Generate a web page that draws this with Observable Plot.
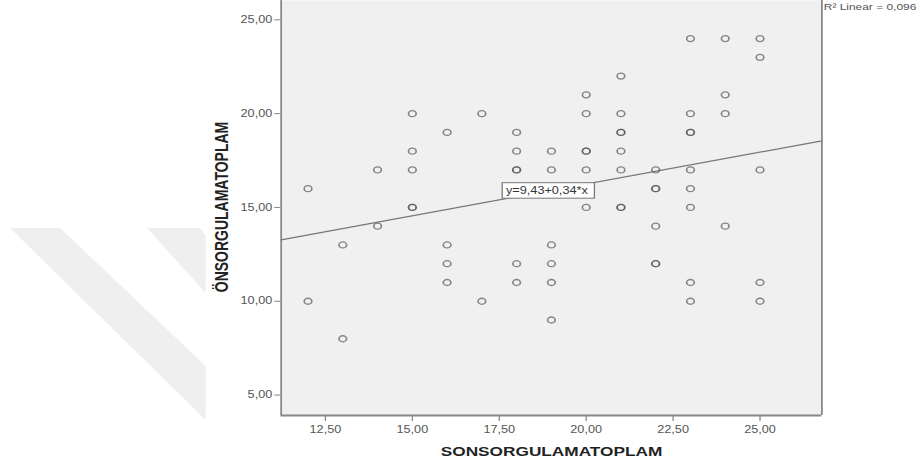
<!DOCTYPE html>
<html><head><meta charset="utf-8">
<script src="https://cdn.jsdelivr.net/npm/d3@7"></script>
<script src="https://cdn.jsdelivr.net/npm/@observablehq/plot@0.6"></script>
<style>
html,body{margin:0;padding:0;background:#fff;}
#wrap{position:relative;width:919px;height:465px;overflow:hidden;}
#wm{position:absolute;left:0;top:0;}
#chart{position:absolute;left:0;top:0;}
</style></head><body>
<div id="wrap">
<svg id="wm" width="919" height="465" aria-hidden="true">
  <polygon points="10,228 60,228 205.7,366 205.7,420" fill="#efefef"/>
  <polygon points="147,228 200,228 205.7,236 205.7,293" fill="#efefef"/>
</svg>
<div id="chart"></div>
</div>
<script>
// SONSORGULAMATOPLAM (x) and ÖNSORGULAMATOPLAM (y), one entry per case
const sonsorgulama = [
  12,12, 13,13, 14,14, 15,15,15,15,15, 16,16,16,16, 17,17,
  18,18,18,18,18,18, 19,19,19,19,19,19, 20,20,20,20,20,20,
  21,21,21,21,21,21,21,21, 22,22,22,22,22,22,
  23,23,23,23,23,23,23,23,23, 24,24,24,24, 25,25,25,25,25
];
const onsorgulama = [
  16,10, 13,8, 17,14, 20,18,17,15,15, 19,13,12,11, 20,10,
  19,18,17,17,12,11, 18,17,13,12,11,9, 21,20,18,18,17,15,
  22,20,19,19,18,17,15,15, 17,16,16,14,12,12,
  24,20,19,19,17,16,15,11,10, 24,21,20,14, 24,23,17,11,10
];
const xTicks = [12.5, 15, 17.5, 20, 22.5, 25];
const yTicks = [5, 10, 15, 20, 25];
const xDomain = [11.227, 26.78];
const yDomain = [3.91, 26.03];
// fit line end points
const fitX = [11.227, 26.78];
const fitY = [13.27, 18.55];
const eqLabel = "y=9,43+0,34*x";
const eqPos = [18.87, 15.89];
const r2Label = "R² Linear = 0,096";
const xTitle = "SONSORGULAMATOPLAM";
const yTitle = "ÖNSORGULAMATOPLAM";

const points = sonsorgulama.map((x, i) => ({x, y: onsorgulama[i]}));
const fitData = fitX.map((x, i) => ({x, y: fitY[i]}));
const fmt = d => d.toFixed(2).replace(".", ",");

const DW = 724; // design width, stretched to 919
const plot = Plot.plot({
  width: DW, height: 465,
  marginLeft: 221, marginRight: 77, marginTop: 0, marginBottom: 50,
  style: {background: "transparent", fontFamily: "'Liberation Sans', Arial, sans-serif", overflow: "hidden"},
  x: {domain: xDomain},
  y: {domain: yDomain},
  marks: [
    Plot.frame({fill: "#f0f0f0", stroke: "none"}),
    Plot.axisX({ticks: xTicks, tickFormat: fmt, tickSize: 6, tickPadding: 4, fontSize: 10, stroke: "#888", fill: "#555", label: null}),
    Plot.axisY({ticks: yTicks, tickFormat: fmt, tickSize: 5, tickPadding: 2, fontSize: 10, stroke: "#888", fill: "#555", label: null}),
    Plot.line(fitData, {x: "x", y: "y", stroke: "#777", strokeWidth: 1.2}),
    Plot.dot(points, {x: "x", y: "y", r: 3, stroke: "#555", strokeOpacity: 0.7, strokeWidth: 1.3, fill: "none"}),
    Plot.text([{x: eqPos[0], y: eqPos[1], t: eqLabel}], {x: "x", y: "y", text: "t", fontSize: 10, fill: "#333"}),
    Plot.ruleX([xDomain[0], xDomain[1]], {stroke: "#888", strokeWidth: 1.4}),
    Plot.ruleY([yDomain[0]], {stroke: "#888", strokeWidth: 2}),
    Plot.text([r2Label], {frameAnchor: "top-right", textAnchor: "start", lineAnchor: "top", dx: 1.5, dy: 2.4, fontSize: 9.4, fill: "#555"}),
    Plot.text([xTitle], {frameAnchor: "bottom", dy: 40, fontSize: 13.6, fontWeight: "bold", fill: "#222"}),
    Plot.text([yTitle], {frameAnchor: "left", textAnchor: "middle", rotate: -90, dx: -46.3, dy: -1, fontSize: 14, fontWeight: "bold", fill: "#222"})
  ]
});
document.getElementById("chart").appendChild(plot);
plot.setAttribute("width", 919);
plot.setAttribute("preserveAspectRatio", "none");
plot.style.width = "919px";
plot.style.height = "465px";
plot.style.maxWidth = "none";

// white box behind the equation label
const t = Array.from(plot.querySelectorAll("text")).find(e => e.textContent === eqLabel);
if (t) {
  const b = t.getBBox();
  const rect = document.createElementNS("http://www.w3.org/2000/svg", "rect");
  rect.setAttribute("x", b.x - 3);
  rect.setAttribute("y", b.y - 2.5);
  rect.setAttribute("width", b.width + 8);
  rect.setAttribute("height", b.height + 5);
  rect.setAttribute("fill", "#fff");
  rect.setAttribute("stroke", "#777");
  rect.setAttribute("stroke-width", 1);
  const tr = t.getAttribute("transform");
  if (tr) rect.setAttribute("transform", tr);
  t.parentNode.insertBefore(rect, t);
}
</script>
</body></html>
